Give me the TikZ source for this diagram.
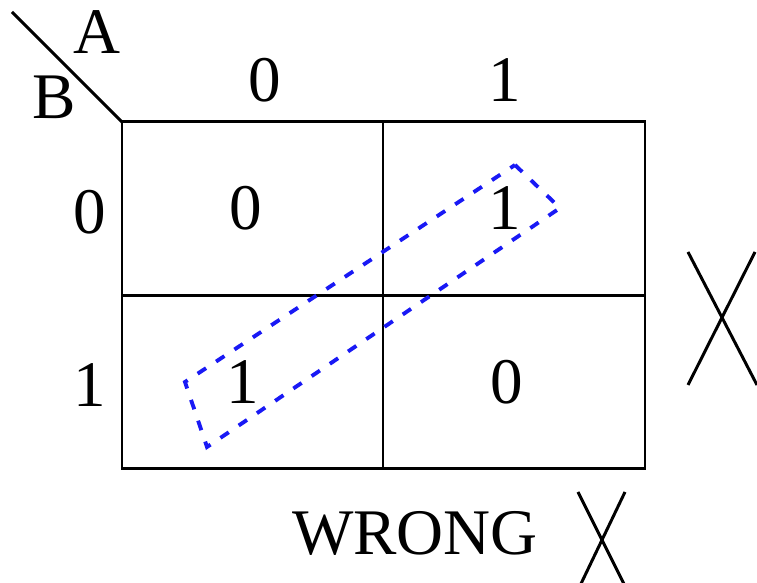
\documentclass[tikz,border=0pt]{standalone}
\usepackage{fontspec}
\setmainfont{Liberation Serif}
\usetikzlibrary{positioning}
\definecolor{loopblue}{RGB}{25, 25, 245}

\begin{document}
\begin{tikzpicture}[x=0.01cm, y=-0.01cm, line width=0.85pt,
    font=\fontsize{18.5}{22}\selectfont,
    lbl/.style={inner sep=0pt}]
        \useasboundingbox (0,0) rectangle (757,583);
        % grid
        \draw (122,122) rectangle (645,469);
        \draw (383,122) -- (383,469);
        \draw (122,296) -- (645,296);
        % corner
        \draw (12,12) -- (122,122);
        \node[lbl] (varA) at (97,32) {A};
        \node[lbl] (varB) at (54,97) {B};
        % headers
        \foreach \x/\v in {265/0, 505/1}
          \node[lbl] (col\v) at (\x,80) {\v};
        \foreach \y/\v in {212/0, 385/1}
          \node[lbl] (row\v) at (90,\y) {\v};
        % cells
        \foreach \x/\y/\v/\n in {246/208/0/c00, 505/208/1/c10,
                                 243/382/1/c01, 507/382/0/c11}
          \node[lbl] (\n) at (\x,\y) {\v};
        % loop
        \draw[loopblue, line width=1.1pt, dash pattern=on 0.1cm off 0.12cm]
              (515,165) -- (560,208) -- (207,447) -- (185,382) -- cycle;
        % crosses
        \draw (688,252) -- (757,385);
        \draw (755,252) -- (688,385);
        \node[lbl] (wrong) at (415,533) {WRONG};
        \draw (578,492) -- (627,590);
        \draw (625,492) -- (578,590);
\end{tikzpicture}
\end{document}
